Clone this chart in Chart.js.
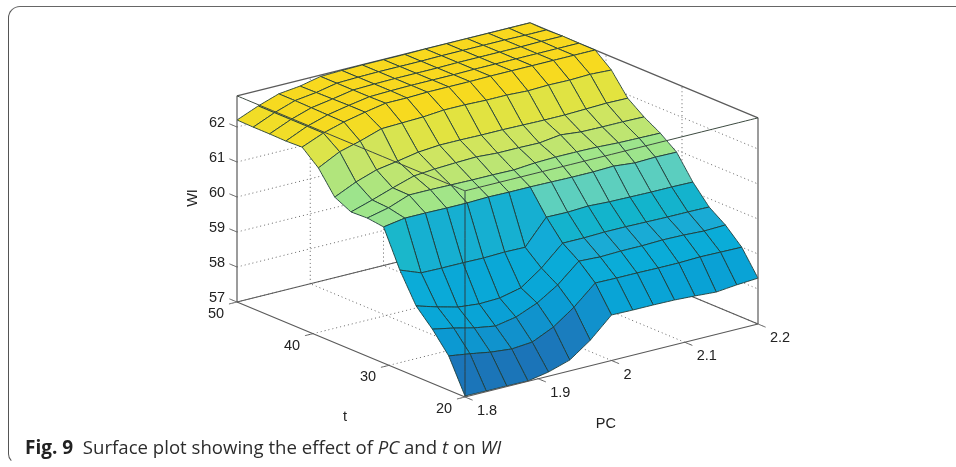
<!DOCTYPE html>
<html>
<head>
<meta charset="utf-8">
<script src="https://cdn.jsdelivr.net/npm/chart.js@4"></script>
<style>
  html, body { margin: 0; padding: 0; background: #fff; }
  #page { position: relative; width: 956px; height: 467px; overflow: hidden; }
  #card { position: absolute; left: 8px; top: 6px; width: 960px; height: 458px; box-sizing: border-box;
          border-top: 1.5px solid #666; border-left: 1.5px solid #555; border-bottom: 1.5px solid transparent;
          border-radius: 12px 0 0 10px; }
  #caption { position: absolute; left: 25px; top: 434px; font: 18.6px "Open Sans", sans-serif; color: #2c2c2c; white-space: pre; }
  #caption b { font-size: 19px; color: #222; }
  canvas { position: absolute; left: 0; top: 0; }
</style>
</head>
<body>
<div id="page">
  <canvas id="surface" width="956" height="467"></canvas>
  <div id="card"></div>
  <div id="caption"><b>Fig. 9</b>  Surface plot showing the effect of <i>PC</i> and <i>t</i> on <i>WI</i></div>
</div>
<script>
const pcValues = [1.8, 1.829, 1.857, 1.886, 1.914, 1.943, 1.971, 2.0, 2.029, 2.057, 2.086, 2.114, 2.143, 2.171, 2.2];
const tValues = [20, 22.14, 24.29, 26.43, 28.57, 30.71, 32.86, 35, 37.14, 39.29, 41.43, 43.57, 45.71, 47.86, 50];

const wiT00 = [57.03, 57.02, 57.02, 57.01, 57.12, 57.31, 57.73, 58.30, 58.29, 58.29, 58.28, 58.25, 58.21, 58.27, 58.31];
const wiT01 = [57.98, 57.89, 57.79, 57.73, 57.78, 58.06, 58.48, 59.02, 59.01, 59.01, 59.00, 59.00, 59.02, 59.01, 59.00];
const wiT02 = [58.55, 58.43, 58.29, 58.19, 58.30, 58.55, 58.92, 59.45, 59.42, 59.44, 59.44, 59.46, 59.45, 59.42, 59.44];
const wiT03 = [59.02, 58.84, 58.69, 58.63, 58.65, 58.79, 59.21, 59.77, 59.77, 59.79, 59.79, 59.78, 59.77, 59.77, 59.76];
const wiT04 = [59.85, 59.62, 59.61, 59.61, 59.60, 59.62, 59.61, 60.32, 60.31, 60.34, 60.31, 60.30, 60.29, 60.29, 60.28];
const wiT05 = [60.89, 60.99, 60.99, 60.98, 60.98, 61.00, 60.99, 60.99, 60.98, 60.97, 60.97, 60.99, 60.93, 60.95, 60.94];
const wiT06 = [60.95, 61.09, 61.31, 61.31, 61.30, 61.29, 61.29, 61.28, 61.33, 61.35, 61.35, 61.34, 61.31, 61.30, 61.29];
const wiT07 = [60.93, 61.12, 61.32, 61.51, 61.56, 61.59, 61.61, 61.57, 61.57, 61.56, 61.64, 61.58, 61.57, 61.57, 61.56];
const wiT08 = [61.16, 61.44, 61.64, 61.74, 61.85, 61.90, 61.90, 61.89, 61.89, 61.88, 61.87, 61.87, 61.89, 61.91, 61.90];
const wiT09 = [61.80, 62.11, 62.27, 62.47, 62.49, 62.51, 62.56, 62.56, 62.54, 62.54, 62.51, 62.53, 62.52, 62.54, 62.51];
const wiT10 = [62.20, 62.45, 62.62, 62.75, 62.86, 62.86, 62.88, 62.88, 62.88, 62.89, 62.89, 62.89, 62.89, 62.89, 62.89];
const wiT11 = [62.18, 62.45, 62.63, 62.75, 62.85, 62.87, 62.88, 62.88, 62.88, 62.89, 62.89, 62.89, 62.89, 62.89, 62.89];
const wiT12 = [62.19, 62.45, 62.64, 62.74, 62.85, 62.87, 62.88, 62.88, 62.88, 62.89, 62.89, 62.89, 62.89, 62.90, 62.90];
const wiT13 = [62.19, 62.45, 62.65, 62.73, 62.85, 62.87, 62.88, 62.88, 62.88, 62.89, 62.89, 62.89, 62.89, 62.88, 62.88];
const wiT14 = [62.20, 62.45, 62.65, 62.72, 62.85, 62.87, 62.88, 62.88, 62.88, 62.89, 62.89, 62.89, 62.89, 62.89, 62.89];
const wiRows = [wiT00, wiT01, wiT02, wiT03, wiT04, wiT05, wiT06, wiT07, wiT08, wiT09, wiT10, wiT11, wiT12, wiT13, wiT14];

const wiTicks = [57, 58, 59, 60, 61, 62];
const tTicks = [20, 30, 40, 50];
const pcTicks = [1.8, 1.9, 2, 2.1, 2.2];
const pcTickLabels = ['1.8', '1.9', '2', '2.1', '2.2'];

const colorLevels = [57.0, 57.4, 57.7, 58.0, 58.3, 59.0, 59.4, 59.8, 60.3, 60.95, 61.3, 61.55, 61.9, 62.2, 62.5, 62.9];
const colorStops = ['#1b74b8', '#1a7fc0', '#1290cb', '#0c9ad2', '#09a4d6', '#0aacd8', '#1aaad6', '#13b4cc', '#5ccfbf',
                    '#9fe58a', '#bde572', '#cde563', '#e2e340', '#f2dd26', '#f7da1f', '#f8d81e'];

// view of the box, same idea as matlab's view(): data -> page units
const pcMin = 1.8, pcMax = 2.2, tMin = 20, tMax = 50, wiMin = 57, wiMax = 62.89;
function project(pc, t, wi) {
    const p = (pc - pcMin) / (pcMax - pcMin);
    const q = (t - tMin) / (tMax - tMin);
    return {
        x: 465 + 293 * p - 228 * q,
        y: 397 - 73 * p - 95 * q - 35 * (wi - wiMin)
    };
}

function wiColor(wi) {
    let k = 0;
    while (k < colorLevels.length - 2 && wi > colorLevels[k + 1]) k++;
    const f = Math.min(1, Math.max(0, (wi - colorLevels[k]) / (colorLevels[k + 1] - colorLevels[k])));
    const a = parseInt(colorStops[k].slice(1), 16), b = parseInt(colorStops[k + 1].slice(1), 16);
    const mix = (s) => Math.round(((a >> s) & 255) * (1 - f) + ((b >> s) & 255) * f);
    return 'rgb(' + mix(16) + ',' + mix(8) + ',' + mix(0) + ')';
}

function lineSet(a, b, color, width, dash) {
    return {
        data: [project(a[0], a[1], a[2]), project(b[0], b[1], b[2])],
        borderColor: color, borderWidth: width, borderDash: dash || [], fill: false
    };
}

const DOTS = [1, 3];
const GRID = '#666';
const BOX = '#5a5a5a';
let painted = [];

// dotted grid on the floor and the two back walls
wiTicks.slice(1).concat(57).forEach((wi) => {
    painted.push(lineSet([pcMin, tMax, wi], [pcMax, tMax, wi], GRID, 1, DOTS));
    painted.push(lineSet([pcMax, tMax, wi], [pcMax, tMin, wi], GRID, 1, DOTS));
});
pcTicks.slice(1, 4).forEach((pc) => {
    painted.push(lineSet([pc, tMin, wiMin], [pc, tMax, wiMin], GRID, 1, DOTS));
    painted.push(lineSet([pc, tMax, wiMin], [pc, tMax, wiMax], GRID, 1, DOTS));
});
tTicks.slice(1, 3).forEach((t) => {
    painted.push(lineSet([pcMin, t, wiMin], [pcMax, t, wiMin], GRID, 1, DOTS));
    painted.push(lineSet([pcMax, t, wiMin], [pcMax, t, wiMax], GRID, 1, DOTS));
});

// back edges of the box
painted.push(lineSet([pcMin, tMax, wiMin], [pcMax, tMax, wiMin], BOX, 1.2));
painted.push(lineSet([pcMax, tMax, wiMin], [pcMax, tMin, wiMin], BOX, 1.2));
painted.push(lineSet([pcMin, tMax, wiMax], [pcMax, tMax, wiMax], BOX, 1.2));
painted.push(lineSet([pcMax, tMax, wiMax], [pcMax, tMin, wiMax], BOX, 1.2));

// surface cells, back corner first
for (let j = tValues.length - 2; j >= 0; j--) {
    for (let i = pcValues.length - 2; i >= 0; i--) {
        painted.push({
            data: [
                project(pcValues[i], tValues[j], wiRows[j][i]),
                project(pcValues[i + 1], tValues[j], wiRows[j][i + 1]),
                project(pcValues[i + 1], tValues[j + 1], wiRows[j + 1][i + 1]),
                project(pcValues[i], tValues[j + 1], wiRows[j + 1][i]),
                project(pcValues[i], tValues[j], wiRows[j][i])
            ],
            borderColor: '#1f3d3a', borderWidth: 0.9,
            backgroundColor: wiColor(wiRows[j][i]), fill: 'shape'
        });
    }
}

// front edges stay on top of the surface, like the original
painted.push(lineSet([pcMin, tMin, wiMin], [pcMin, tMax, wiMin], BOX, 1.2));
painted.push(lineSet([pcMin, tMin, wiMin], [pcMax, tMin, wiMin], BOX, 1.2));
painted.push(lineSet([pcMin, tMax, wiMin], [pcMin, tMax, wiMax], BOX, 1.2));
painted.push(lineSet([pcMax, tMin, wiMin], [pcMax, tMin, wiMax], BOX, 1.2));
painted.push(lineSet([pcMin, tMin, wiMin], [pcMin, tMin, wiMax], '#2b3f44', 1));
painted.push(lineSet([pcMin, tMax, wiMax], [pcMin, tMin, wiMax], '#3c4a40', 1));
painted.push(lineSet([pcMin, tMin, wiMax], [pcMax, tMin, wiMax], '#3c4a40', 1));

// tick marks
wiTicks.forEach((wi) => painted.push(lineSet([pcMin, tMax, wi], [pcMin, tMax + 1, wi], BOX, 1)));
tTicks.forEach((t) => painted.push(lineSet([pcMin, t, wiMin], [pcMin - 0.011, t, wiMin], BOX, 1)));
pcTicks.forEach((pc) => painted.push(lineSet([pc, tMin, wiMin], [pc, tMin - 1, wiMin], BOX, 1)));

const axisText = {
    id: 'axisText',
    afterDraw(chart) {
        const ctx = chart.ctx, sx = chart.scales.x, sy = chart.scales.y;
        const put = (text, pos, dx, dy) => ctx.fillText(text, sx.getPixelForValue(pos.x) + dx, sy.getPixelForValue(pos.y) + dy);
        ctx.save();
        ctx.fillStyle = '#222';
        ctx.font = '14.5px "Liberation Sans", Arial, sans-serif';
        ctx.textAlign = 'center';
        ctx.textBaseline = 'middle';
        wiTicks.forEach((wi) => put(String(wi), project(pcMin, tMax, wi), -20, -4));
        tTicks.forEach((t) => put(String(t), project(pcMin, t, wiMin), -21, 12));
        pcTicks.forEach((pc, k) => put(pcTickLabels[k], project(pc, tMin, wiMin), pcTickLabels[k].length > 1 ? 22 : 16, 14));
        put('t', project(pcMin, tMin, wiMin), -120, 20);
        put('PC', project(1.98, tMin, wiMin), 9, 60);
        ctx.save();
        ctx.translate(sx.getPixelForValue(193), sy.getPixelForValue(198));
        ctx.rotate(-Math.PI / 2);
        ctx.fillText('WI', 0, 0);
        ctx.restore();
        ctx.restore();
    }
};

// chart.js paints the last dataset first, so reverse the painter's list
new Chart(document.getElementById('surface'), {
    type: 'line',
    data: { datasets: painted.slice().reverse() },
    options: {
        responsive: false,
        animation: false,
        layout: { padding: 0 },
        elements: { point: { radius: 0 }, line: { tension: 0.0001, capBezierPoints: false } },
        plugins: { legend: { display: false }, tooltip: { enabled: false }, title: { display: false } },
        scales: {
            x: { type: 'linear', min: 0, max: 956, display: false },
            y: { type: 'linear', min: 0, max: 467, reverse: true, display: false }
        }
    },
    plugins: [axisText]
});
</script>
</body>
</html>
